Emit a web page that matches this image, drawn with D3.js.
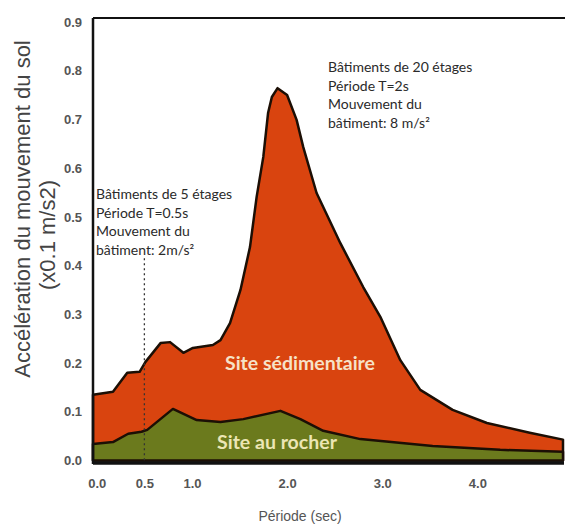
<!DOCTYPE html>
<html>
<head>
<meta charset="utf-8">
<script src="https://cdn.jsdelivr.net/npm/d3@7"></script>
<style>
  body { margin: 0; background: #fff; }
  svg { display: block; }
</style>
</head>
<body>
<div id="chart"></div>
<script>
// Data (period in sec, acceleration in x0.1 m/s2)
var sedPeriod = [-0.04, 0.17, 0.32, 0.45, 0.51, 0.67, 0.77, 0.91, 1.01, 1.22, 1.30, 1.40, 1.51, 1.61, 1.68, 1.75, 1.80, 1.84, 1.90, 2.00, 2.10, 2.17, 2.31, 2.56, 2.80, 2.98, 3.19, 3.40, 3.74, 4.10, 4.55, 4.90];
var sedAccel = [0.135, 0.141, 0.180, 0.182, 0.202, 0.241, 0.243, 0.221, 0.231, 0.237, 0.247, 0.282, 0.350, 0.438, 0.541, 0.623, 0.713, 0.746, 0.764, 0.750, 0.699, 0.643, 0.549, 0.446, 0.356, 0.295, 0.206, 0.145, 0.104, 0.077, 0.057, 0.043];

var rockPeriod = [-0.04, 0.17, 0.33, 0.47, 0.53, 0.80, 1.05, 1.30, 1.54, 1.93, 2.14, 2.38, 2.77, 3.53, 4.24, 4.90];
var rockAccel = [0.034, 0.038, 0.055, 0.059, 0.063, 0.106, 0.083, 0.079, 0.085, 0.102, 0.085, 0.061, 0.044, 0.030, 0.022, 0.018];

var xTicks = [0, 0.5, 1, 2, 3, 4, 5];
var xTickLabels = ["0.0", "0.5", "1.0", "2.0", "3.0", "4.0", "5"];
var yTicks = [0, 0.1, 0.2, 0.3, 0.4, 0.5, 0.6, 0.7, 0.8, 0.9];

var markPeriod = 0.5;   // dotted line, 5-storey building
var markTop = 0.415;

var note5 = ["Bâtiments de 5 étages", "Période T=0.5s", "Mouvement du", "bâtiment: 2m/s²"];
var note20 = ["Bâtiments de 20 étages", "Période T=2s", "Mouvement du", "bâtiment: 8 m/s²"];

var width = 568, height = 524;

var svg = d3.select("#chart")
    .append("svg")
    .attr("width", width)
    .attr("height", height);

var x = d3.scaleLinear().domain([-0.04, 4.9]).range([93, 563]);
var y = d3.scaleLinear().domain([-0.005, 0.908]).range([463, 18]);

var sed = sedPeriod.map(function (t, i) { return { t: t, v: sedAccel[i] }; });
var rock = rockPeriod.map(function (t, i) { return { t: t, v: rockAccel[i] }; });

var area = d3.area()
    .x(function (d) { return x(d.t); })
    .y0(y(0))
    .y1(function (d) { return y(d.v); });

// sedimentary site
svg.append("path")
    .datum(sed)
    .attr("d", area)
    .attr("fill", "#d9440f")
    .attr("stroke", "#1c0f05")
    .attr("stroke-width", 2.5)
    .attr("stroke-linejoin", "round");

// rock site
svg.append("path")
    .datum(rock)
    .attr("d", area)
    .attr("fill", "#6b7a1d")
    .attr("stroke", "#1c0f05")
    .attr("stroke-width", 2.5)
    .attr("stroke-linejoin", "round");

// dotted line at T=0.5s
svg.append("line")
    .attr("x1", x(markPeriod)).attr("x2", x(markPeriod))
    .attr("y1", y(markTop)).attr("y2", y(0))
    .attr("stroke", "#333")
    .attr("stroke-width", 1.3)
    .attr("stroke-dasharray", "2,3");

// frame: left, top, bottom
svg.append("line")
    .attr("x1", x.range()[0]).attr("x2", x.range()[0])
    .attr("y1", y.range()[1]).attr("y2", y.range()[0] + 1)
    .attr("stroke", "#111").attr("stroke-width", 2.5);
svg.append("line")
    .attr("x1", x.range()[0]).attr("x2", x.range()[1] + 2)
    .attr("y1", y.range()[1]).attr("y2", y.range()[1])
    .attr("stroke", "#111").attr("stroke-width", 2);
svg.append("line")
    .attr("x1", x.range()[0]).attr("x2", x.range()[1] + 1)
    .attr("y1", y.range()[0]).attr("y2", y.range()[0])
    .attr("stroke", "#111").attr("stroke-width", 3.5);

// axes (labels only)
var xAxis = svg.append("g")
    .attr("transform", "translate(0," + y.range()[0] + ")")
    .call(d3.axisBottom(x).tickValues(xTicks).tickSize(0).tickPadding(16)
        .tickFormat(function (d, i) { return xTickLabels[i]; }));
var yAxis = svg.append("g")
    .attr("transform", "translate(" + x.range()[0] + ",0)")
    .call(d3.axisLeft(y).tickValues(yTicks).tickSize(0).tickPadding(11)
        .tickFormat(d3.format(".1f")));

[xAxis, yAxis].forEach(function (g) {
    g.select(".domain").remove();
    g.selectAll("text")
        .attr("fill", "#555")
        .style("font-family", "'Liberation Sans', Arial, sans-serif")
        .style("font-size", "13px")
        .style("font-weight", "bold");
});

// axis titles
svg.append("text")
    .attr("transform", "translate(" + 300 + ",521) ")
    .attr("text-anchor", "middle")
    .attr("fill", "#555")
    .style("font-family", "'Liberation Sans', Arial, sans-serif")
    .style("font-size", "14px")
    .text("Période (sec)");

var yTitle = svg.append("text")
    .attr("transform", "translate(30,209) rotate(-90)")
    .attr("text-anchor", "middle")
    .attr("fill", "#444")
    .style("font-family", "'Liberation Sans', Arial, sans-serif")
    .style("font-size", "22px");
yTitle.append("tspan").attr("x", 0).attr("dy", 0).text("Accélération du mouvement du sol");
yTitle.append("tspan").attr("x", -26).attr("dy", 25).text("(x0.1 m/s2)");

// notes
function note(lines, px, py) {
    var t = svg.append("text")
        .attr("fill", "#2a2a2a")
        .style("font-family", "Lato, sans-serif")
        .style("font-size", "14px");
    lines.forEach(function (s, i) {
        t.append("tspan").attr("x", px).attr("y", py + i * 18.5).text(s);
    });
}
note(note5, 96, 199);
note(note20, 328, 72);

// site labels
svg.append("text")
    .attr("x", 300).attr("y", 370)
    .attr("text-anchor", "middle")
    .attr("fill", "#f6e2c8")
    .style("font-family", "Lato, sans-serif")
    .style("font-weight", "bold")
    .style("font-size", "19.5px")
    .text("Site sédimentaire");
svg.append("text")
    .attr("x", 277).attr("y", 449)
    .attr("text-anchor", "middle")
    .attr("fill", "#ece6b4")
    .style("font-family", "Lato, sans-serif")
    .style("font-weight", "bold")
    .style("font-size", "19.5px")
    .text("Site au rocher");
</script>
</body>
</html>
